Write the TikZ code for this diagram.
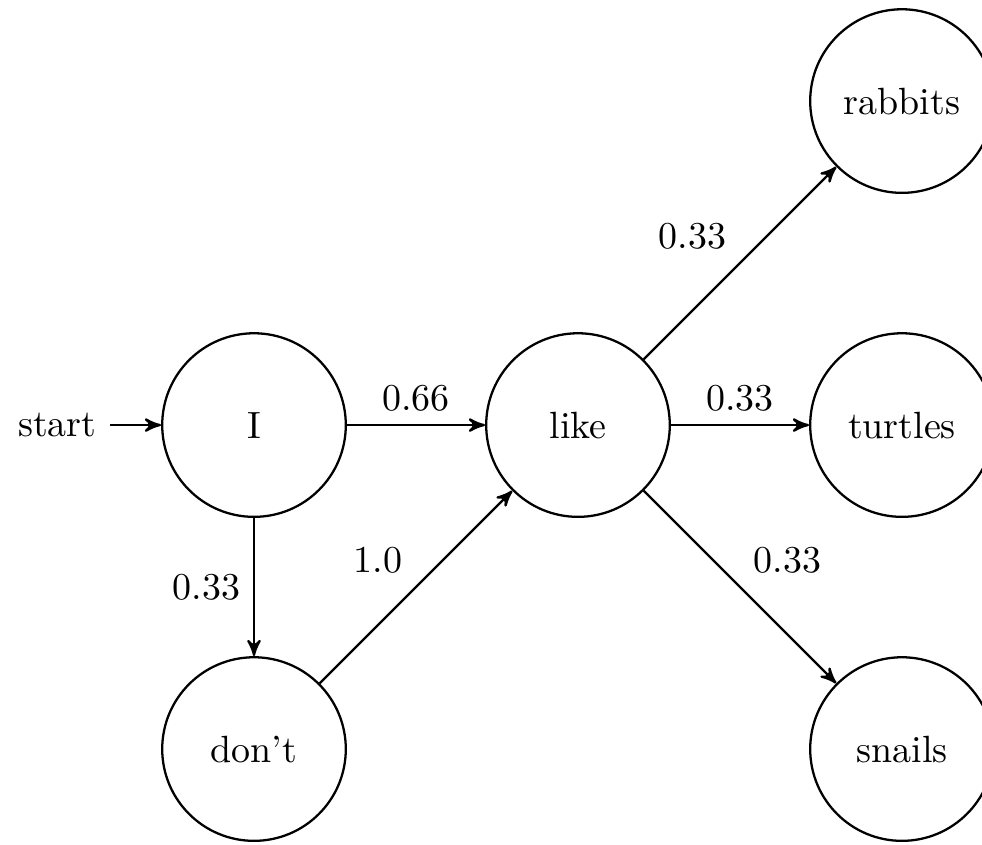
\documentclass[tikz,border=0pt]{standalone}
\usetikzlibrary{arrows}

\begin{document}
\begin{tikzpicture}[x=3cm,y=3cm,auto,>=stealth',semithick,
    word/.style={circle,draw,minimum size=1.7cm,inner sep=0pt}]
   \clip (-0.784,-1.296) rectangle (2.247,1.312);
   \node (start) at (-0.607, 0) {start};
   \node (vI)    at ( 0, 0) [word] {I};
   \node (vdont) at ( 0,-1) [word] {don't};
   \node (vlike) at ( 1, 0) [word] {like};
   \node (vrab)  at ( 2, 1) [word] {rabbits};
   \node (vtur)  at ( 2, 0) [word] {turtles};
   \node (vsna)  at ( 2,-1) [word] {snails};
   \draw[->] (start) to (vI);
   \draw[->] (vI) to node {0.66} (vlike);
   \draw[->] (vI) to node[swap] {0.33} (vdont);
   \draw[->] (vdont) to node {1.0} (vlike);
   \draw[->] (vlike) to node {0.33} (vrab);
   \draw[->] (vlike) to node {0.33} (vtur);
   \draw[->] (vlike) to node {0.33} (vsna);
\end{tikzpicture}
\end{document}
